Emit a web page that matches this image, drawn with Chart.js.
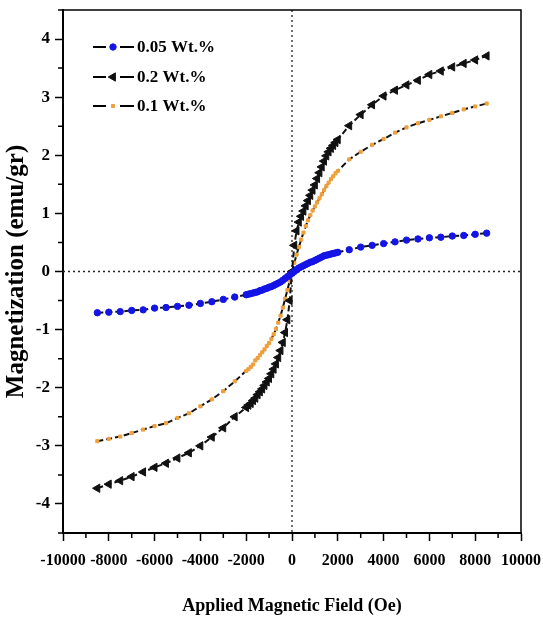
<!DOCTYPE html>
<html>
<head>
<meta charset="utf-8">
<script src="https://cdn.jsdelivr.net/npm/chart.js@4.4.1/dist/chart.umd.min.js"></script>
<style>
  html, body { margin: 0; padding: 0; background: #fff; }
  #wrap { width: 543px; height: 619px; }
</style>
</head>
<body>
<div id="wrap"><canvas id="mhChart" width="543" height="619"></canvas></div>
<script>
// ------- Data -------
const fieldOe = [
  -8500, -8000, -7500, -7000, -6500, -6000, -5500, -5000, -4500, -4000, -3500, -3000, -2500, -2000,
  -1900, -1800, -1700, -1600, -1500, -1400, -1300, -1200, -1100, -1000, -900, -800, -700, -600, -500,
  -400, -300, -200, -100, 0, 100, 200, 300, 400, 500, 600, 700, 800, 900, 1000, 1100, 1200, 1300,
  1400, 1500, 1600, 1700, 1800, 1900,
  2000, 2500, 3000, 3500, 4000, 4500, 5000, 5500, 6000, 6500, 7000, 7500, 8000, 8500
];

const mag005 = [
  -0.71, -0.70, -0.69, -0.67, -0.66, -0.63, -0.62, -0.60, -0.58, -0.55, -0.52, -0.48, -0.44, -0.40,
  -0.39, -0.38, -0.37, -0.36, -0.35, -0.33, -0.32, -0.30, -0.29, -0.27, -0.26, -0.24, -0.22, -0.20, -0.18,
  -0.15, -0.12, -0.09, -0.06, -0.03, 0.00, 0.03, 0.06, 0.08, 0.10, 0.12, 0.14, 0.16, 0.17, 0.19, 0.21, 0.23, 0.25,
  0.27, 0.28, 0.29, 0.30, 0.31, 0.32,
  0.33, 0.375, 0.42, 0.45, 0.48, 0.51, 0.54, 0.56, 0.58, 0.59, 0.61, 0.62, 0.64, 0.66
];

const mag02 = [
  -3.73, -3.66, -3.60, -3.53, -3.45, -3.37, -3.30, -3.21, -3.12, -3.00, -2.85, -2.69, -2.50, -2.34,
  -2.30, -2.27, -2.22, -2.18, -2.12, -2.07, -2.02, -1.96, -1.90, -1.84, -1.76, -1.68, -1.59, -1.48, -1.36,
  -1.22, -1.05, -0.83, -0.50, 0.00, 0.45, 0.70, 0.85, 0.95, 1.04, 1.13, 1.22, 1.31, 1.40, 1.49, 1.60, 1.70, 1.80,
  1.90, 1.99, 2.06, 2.12, 2.17, 2.22,
  2.27, 2.51, 2.70, 2.87, 3.02, 3.12, 3.21, 3.29, 3.39, 3.45, 3.52, 3.58, 3.64, 3.71
];

const mag01 = [
  -2.92, -2.88, -2.84, -2.78, -2.72, -2.66, -2.61, -2.52, -2.44, -2.32, -2.20, -2.06, -1.89, -1.71,
  -1.68, -1.64, -1.60, -1.53, -1.49, -1.44, -1.39, -1.34, -1.28, -1.23, -1.16, -1.08, -0.99, -0.88, -0.76,
  -0.62, -0.47, -0.32, -0.16, 0.00, 0.15, 0.29, 0.42, 0.55, 0.67, 0.78, 0.88, 0.97, 1.05, 1.12, 1.19, 1.26, 1.33,
  1.40, 1.47, 1.53, 1.59, 1.64, 1.69,
  1.73, 1.93, 2.06, 2.18, 2.28, 2.39, 2.48, 2.55, 2.61, 2.67, 2.73, 2.79, 2.84, 2.89
];

const seriesLabels = ['0.05 Wt.%', '0.2 Wt.%', '0.1 Wt.%'];
const xTicks = [-10000, -8000, -6000, -4000, -2000, 0, 2000, 4000, 6000, 8000, 10000];
const xMinorTicks = [-9000, -7000, -5000, -3000, -1000, 1000, 3000, 5000, 7000, 9000];
const yTicks = [-4, -3, -2, -1, 0, 1, 2, 3, 4];
const yMinorTicks = [-4.5, -3.5, -2.5, -1.5, -0.5, 0.5, 1.5, 2.5, 3.5, 4.5];

const SERIF = "'Liberation Serif', 'Times New Roman', serif";

function toPoints(ys) {
  return fieldOe.map((h, i) => ({ x: h, y: ys[i] }));
}

// ------- Plugins -------
const framePlugin = {
  id: 'frame',
  beforeDatasetsDraw(chart) {
    const { ctx, chartArea: a, scales } = chart;
    const x0 = scales.x.getPixelForValue(0);
    const y0 = scales.y.getPixelForValue(0);
    ctx.save();
    ctx.strokeStyle = '#222';
    ctx.lineWidth = 1.3;
    ctx.setLineDash([2, 3]);
    ctx.beginPath();
    ctx.moveTo(x0, a.top); ctx.lineTo(x0, a.bottom);
    ctx.moveTo(a.left, y0); ctx.lineTo(a.right, y0);
    ctx.stroke();
    ctx.restore();
  },
  afterDraw(chart) {
    const { ctx, chartArea: a, scales } = chart;
    ctx.save();
    ctx.strokeStyle = '#000';
    ctx.lineWidth = 1.5;
    ctx.beginPath();
    ctx.moveTo(a.left, a.top); ctx.lineTo(a.right, a.top); ctx.lineTo(a.right, a.bottom);
    ctx.stroke();
    // minor ticks
    ctx.beginPath();
    xMinorTicks.forEach(v => {
      const px = scales.x.getPixelForValue(v);
      ctx.moveTo(px, a.bottom); ctx.lineTo(px, a.bottom + 5);
    });
    yMinorTicks.forEach(v => {
      const py = scales.y.getPixelForValue(v);
      ctx.moveTo(a.left, py); ctx.lineTo(a.left - 5, py);
    });
    ctx.stroke();
    ctx.restore();
  }
};

const legendPlugin = {
  id: 'insideLegend',
  afterDraw(chart) {
    const { ctx } = chart;
    const rows = [47, 77, 106];
    ctx.save();
    chart.data.datasets.forEach((ds, i) => {
      const y = rows[i];
      ctx.strokeStyle = '#000';
      ctx.lineWidth = 2;
      ctx.setLineDash([]);
      ctx.beginPath();
      ctx.moveTo(93, y); ctx.lineTo(106, y);
      ctx.moveTo(120, y); ctx.lineTo(134, y);
      ctx.stroke();
      ctx.fillStyle = ds.pointBackgroundColor;
      ctx.strokeStyle = ds.pointBorderColor;
      ctx.lineWidth = 1;
      Chart.helpers.drawPoint(ctx, {
        pointStyle: ds.pointStyle, radius: ds.pointRadius,
        rotation: ds.pointRotation || 0, borderWidth: 1
      }, 113, y);
      ctx.fillStyle = '#000';
      ctx.font = 'bold 17px ' + SERIF;
      ctx.textBaseline = 'middle';
      ctx.textAlign = 'left';
      ctx.fillText(ds.label, 137, y + 1);
    });
    ctx.restore();
  }
};

// ------- Chart -------
const ctx = document.getElementById('mhChart').getContext('2d');

new Chart(ctx, {
  type: 'scatter',
  data: {
    datasets: [
      {
        label: seriesLabels[0],
        data: toPoints(mag005),
        showLine: true,
        borderColor: '#111',
        borderWidth: 2,
        borderDash: [6, 3],
        pointStyle: 'circle',
        pointRadius: 3.2,
        pointBackgroundColor: '#1414e6',
        pointBorderColor: '#1414e6',
        pointBorderWidth: 1
      },
      {
        label: seriesLabels[1],
        data: toPoints(mag02),
        showLine: true,
        borderColor: '#111',
        borderWidth: 2,
        borderDash: [6, 3],
        pointStyle: 'triangle',
        pointRotation: -90,
        pointRadius: 4.8,
        pointBackgroundColor: '#111',
        pointBorderColor: '#111',
        pointBorderWidth: 1
      },
      {
        label: seriesLabels[2],
        data: toPoints(mag01),
        showLine: true,
        borderColor: '#111',
        borderWidth: 2,
        borderDash: [6, 3],
        pointStyle: 'rect',
        pointRadius: 2.2,
        pointBackgroundColor: '#f0a03c',
        pointBorderColor: '#f0a03c',
        pointBorderWidth: 1
      }
    ]
  },
  options: {
    responsive: false,
    animation: false,
    layout: { padding: { top: 10, right: 22, left: 0, bottom: 0 } },
    plugins: {
      legend: { display: false },
      tooltip: { enabled: false }
    },
    scales: {
      x: {
        type: 'linear',
        min: -10000,
        max: 10000,
        afterBuildTicks: s => { s.ticks = xTicks.map(v => ({ value: v })); },
        afterFit: s => { s.height = 86; s.paddingLeft = 0; s.paddingRight = 0; },
        border: { display: true, color: '#000', width: 2 },
        grid: { drawOnChartArea: false, tickLength: 8, tickColor: '#000', tickWidth: 1.5 },
        ticks: {
          color: '#000', padding: 10, maxRotation: 0, autoSkip: false,
          font: { family: SERIF, size: 16, weight: 'bold' },
          callback: v => String(v)
        },
        title: {
          display: true,
          text: 'Applied Magnetic Field (Oe)',
          color: '#000',
          font: { family: SERIF, size: 18, weight: 'bold' },
          padding: { top: 0, bottom: 2 }
        }
      },
      y: {
        type: 'linear',
        min: -4.5,
        max: 4.5,
        afterBuildTicks: s => { s.ticks = yTicks.map(v => ({ value: v })); },
        afterFit: s => { s.width = 63; s.paddingTop = 0; s.paddingBottom = 0; },
        border: { display: true, color: '#000', width: 2 },
        grid: { drawOnChartArea: false, tickLength: 8, tickColor: '#000', tickWidth: 1.5 },
        ticks: {
          color: '#000', padding: 5,
          font: { family: SERIF, size: 17, weight: 'bold' },
          callback: v => String(v)
        },
        title: {
          display: true,
          text: 'Magnetization (emu/gr)',
          color: '#000',
          font: { family: SERIF, size: 25, weight: 'bold' },
          padding: { top: 2, bottom: 0 }
        }
      }
    }
  },
  plugins: [framePlugin, legendPlugin]
});
</script>
</body>
</html>
